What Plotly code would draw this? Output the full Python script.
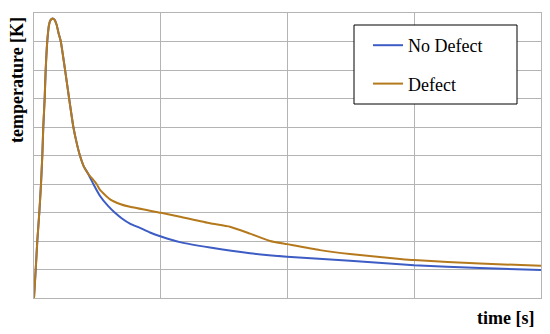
import plotly.graph_objects as go

# shared heating / peak / early-cooling part (time, temperature in arbitrary units)
t_common = [0.0, 0.0134, 0.026, 0.0418, 0.0552, 0.0655, 0.0734, 0.0844, 0.0923, 0.1049,
            0.1183, 0.1302, 0.1475, 0.1617, 0.1791, 0.1933, 0.2107, 0.2446, 0.2761,
            0.3101, 0.3353, 0.3629, 0.3945, 0.426]
T_common = [0.0, 0.99, 2.0, 2.99, 4.0, 4.99, 6.01, 7.03, 8.02, 9.02,
            9.58, 9.75, 9.81, 9.77, 9.58, 9.30, 9.02, 8.02, 7.03,
            6.01, 5.47, 4.99, 4.60, 4.37]

t_nodef = [0.468, 0.521, 0.584, 0.639, 0.694, 0.757, 0.836, 0.915, 1.002, 1.152,
           1.389, 1.704, 1.996, 2.493, 2.998, 3.519, 4.0]
T_nodef = [4.0, 3.58, 3.23, 2.99, 2.79, 2.61, 2.46, 2.30, 2.16, 1.96,
           1.77, 1.57, 1.45, 1.31, 1.15, 1.05, 0.98]

t_def = [0.495, 0.521, 0.600, 0.678, 0.757, 1.002, 1.152, 1.389, 1.546, 1.704,
         1.862, 1.996, 2.256, 2.493, 2.888, 2.998, 3.519, 4.0]
T_def = [3.99, 3.79, 3.46, 3.30, 3.20, 2.99, 2.85, 2.62, 2.50, 2.26,
         2.0, 1.89, 1.68, 1.54, 1.37, 1.33, 1.21, 1.13]

names = ["No Defect", "Defect"]
colors = ["#3d5cc4", "#b5791d"]

serif = "Liberation Serif"
fig = go.Figure()
fig.add_trace(go.Scatter(x=t_common + t_nodef, y=T_common + T_nodef, mode="lines",
                         name=names[0], legendgroup="a",
                         line=dict(color=colors[0], width=2, shape="spline", smoothing=0.5)))
fig.add_trace(go.Scatter(x=t_common + t_def, y=T_common + T_def, mode="lines",
                         name=names[1], legendgroup="b",
                         line=dict(color=colors[1], width=2, shape="spline", smoothing=0.5)))

L, R, T, B = 34, 541, 13, 298
W, H = 550, 334
pw, ph = R - L, B - T

def px(x):
    return (x - L) / pw

def py(y):
    return (B - y) / ph

fig.add_shape(type="rect", xref="paper", yref="paper",
              x0=px(354), x1=px(517), y0=py(104), y1=py(25),
              line=dict(color="black", width=1), fillcolor="white", layer="above")

fig.add_annotation(text="<b>temperature [K]</b>", xref="paper", yref="paper",
                   x=px(17), y=py(80), textangle=-90, showarrow=False,
                   font=dict(family=serif, size=18, color="black"),
                   xanchor="center", yanchor="middle")
fig.add_annotation(text="<b>time [s]</b>", xref="paper", yref="paper",
                   x=px(536), y=py(318), showarrow=False,
                   font=dict(family=serif, size=18, color="black"),
                   xanchor="right", yanchor="middle")

axis_common = dict(showticklabels=False, ticks="", zeroline=False,
                   showgrid=True, gridcolor="#b4b4b4", gridwidth=1,
                   showline=True, linecolor="#b4b4b4", linewidth=1, mirror=True)
fig.update_xaxes(range=[0, 4], dtick=1, **axis_common)
fig.update_yaxes(range=[0, 10], dtick=1, **axis_common)

fig.update_layout(
    width=W, height=H,
    margin=dict(l=L, r=W - R, t=T, b=H - B),
    paper_bgcolor="white", plot_bgcolor="white",
    font=dict(family=serif, size=18, color="black"),
    legend=dict(x=px(368), y=py(27), xanchor="left", yanchor="top",
                bgcolor="rgba(0,0,0,0)", borderwidth=0,
                tracegroupgap=12, font=dict(family=serif, size=18, color="black")),
    showlegend=True,
)

fig.write_html("out.html", config={"displayModeBar": False},
               post_script="document.body.style.margin='0';document.body.style.padding='0';")
